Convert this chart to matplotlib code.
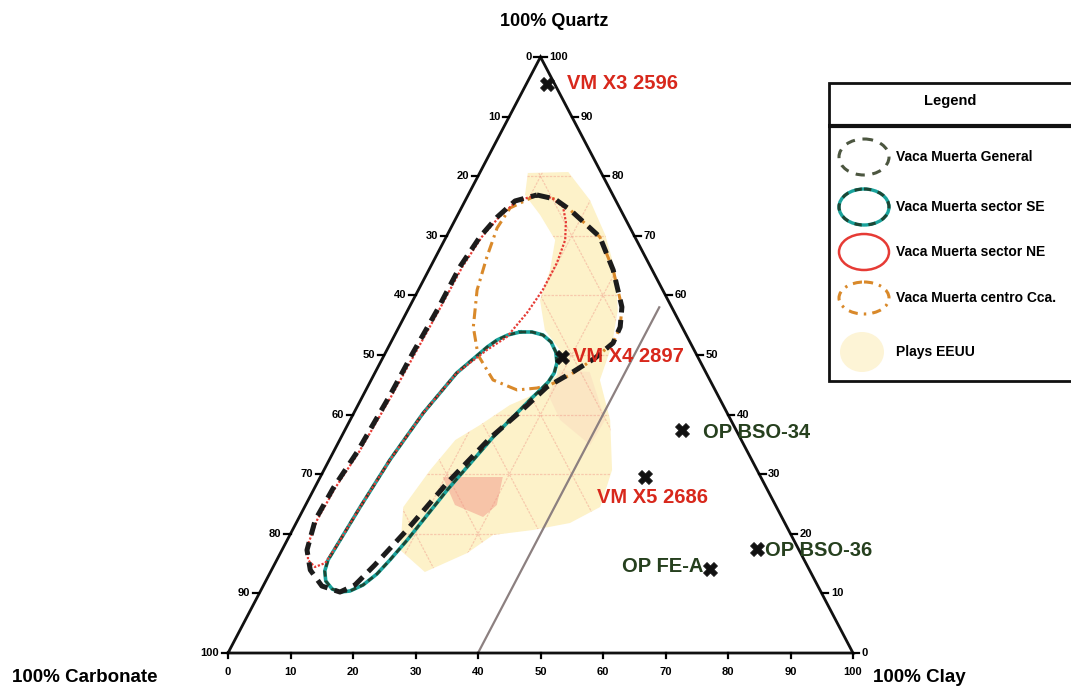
import numpy as np
import matplotlib
matplotlib.use("Agg")
import matplotlib.pyplot as plt
from matplotlib.patches import Polygon, Ellipse, Rectangle
from matplotlib import font_manager

# ---- data: % clay and % quartz (carbonate = 100 - clay - quartz)
gen_clay = [11.0, 14.2, 17.6, 24.6, 29.5, 34.0, 35.4, 35.6, 34.0, 31.6, 28.7, 26.5, 23.9,
            20.8, 18.3, 16.1, 14.6, 12.8, 9.4, 6.2, 4.0, 2.8, 3.0, 3.8, 4.3, 4.4, 4.7, 4.7,
            5.4, 6.5, 8.0]
gen_qtz = [76.85, 76.17, 74.33, 69.80, 64.26, 58.05, 54.70, 52.01, 49.50, 47.15, 44.63,
           40.44, 36.07, 28.52, 20.64, 14.77, 11.41, 10.23, 11.24, 13.93, 17.28, 22.32,
           27.68, 33.72, 43.29, 50.34, 57.55, 64.77, 69.80, 73.15, 75.84]

ne_clay = [11.0, 13.7, 16.2, 17.9, 19.3, 19.9, 19.9, 19.3, 18.1, 16.0, 13.1, 11.1, 9.7,
           8.9, 8.4, 8.0, 6.7, 5.0, 3.7, 3.1, 3.3, 4.1, 4.6, 4.8, 5.0, 5.1, 5.7, 6.8, 8.3]
ne_qtz = [76.85, 76.34, 74.83, 72.32, 69.30, 65.44, 60.91, 57.05, 53.02, 50.84, 46.98,
          40.27, 32.38, 24.50, 18.12, 15.10, 14.43, 15.60, 18.12, 22.32, 27.68, 33.72,
          43.29, 50.34, 57.55, 64.77, 69.80, 73.15, 75.84]

se_clay = [19.8, 21.7, 23.7, 25.6, 27.2, 28.3, 28.7, 28.5, 27.9, 27.3, 25.8, 24.3, 21.4,
           19.2, 18.1, 17.2, 15.9, 14.3, 12.8, 11.3, 9.6, 8.6, 8.2, 8.4, 8.9, 9.7, 11.1,
           13.1, 15.8, 16.8, 18.1]
se_qtz = [53.86, 53.86, 53.36, 52.18, 50.50, 48.66, 46.98, 45.47, 44.13, 42.95, 39.60,
          36.24, 27.35, 18.96, 15.60, 13.26, 11.41, 10.40, 10.23, 10.74, 12.08, 13.76,
          15.60, 18.12, 24.50, 32.38, 40.27, 46.98, 51.34, 52.52, 53.36]

cca_clay = [11.0, 14.2, 17.6, 24.6, 29.5, 34.0, 35.4, 35.6, 34.0, 31.4, 29.0, 27.2, 24.2,
            19.5, 15.0, 11.9, 9.4, 8.2, 7.4, 7.8]
cca_qtz = [76.85, 76.17, 74.33, 69.80, 64.26, 58.05, 54.70, 52.01, 49.50, 46.64, 44.97,
           44.46, 44.13, 45.81, 50.00, 54.70, 60.91, 66.44, 71.31, 74.66]

plays_clay = [7.7, 14.1, 19.9, 25.3, 29.8, 33.6, 35.6, 36.6, 41.6, 46.1, 47.3, 43.8, 38.5,
              32.5, 29.9, 24.7, 18.9, 15.8, 17.0, 18.5, 21.2, 24.3, 28.0, 29.3, 27.7, 23.6,
              20.3, 19.4, 17.7, 13.2, 9.1]
plays_qtz = [80.54, 80.70, 76.00, 70.13, 64.26, 57.55, 51.68, 45.81, 39.09, 30.70, 24.50,
             21.81, 20.64, 19.80, 16.78, 13.59, 17.28, 24.50, 30.70, 35.74, 38.26, 41.61,
             43.79, 46.64, 50.84, 54.19, 59.23, 64.26, 69.30, 73.49, 76.85]

plays_core_clay = [19.6, 29.2, 30.6, 29.4, 23.9]
plays_core_qtz = [29.53, 29.53, 24.83, 22.82, 24.83]

plays_pink_clay = [29.4, 34.3, 40.8, 40.5, 33.6, 29.6]
plays_pink_qtz = [47.48, 47.15, 39.09, 34.90, 39.09, 43.29]

samples = ['VM X3 2596', 'VM X4 2897', 'OP BSO-34', 'VM X5 2686', 'OP BSO-36', 'OP FE-A']
samp_clay = [3.3, 28.6, 53.9, 52.0, 75.9, 70.0]
samp_qtz = [95.5, 49.7, 37.4, 29.5, 17.4, 14.1]

clay_limit = [40, 40]
clay_limit_qtz = [0, 58]

tick_vals = [0, 10, 20, 30, 40, 50, 60, 70, 80, 90, 100]

legend_labels = ['Vaca Muerta General', 'Vaca Muerta sector SE', 'Vaca Muerta sector NE',
                 'Vaca Muerta centro Cca.', 'Plays EEUU']

# ---- colours
RED = '#d8281c'
GREEN = '#26401e'
C_GEN = '#1c1c1c'
C_SE = '#19a39c'
C_SE2 = '#1d4634'
C_NE = '#e63b35'
C_CCA = '#d9892a'
C_PLAYS = '#fdf2c9'


def tern(clay, qtz):
    clay = np.asarray(clay, float)
    qtz = np.asarray(qtz, float)
    return clay + qtz / 2.0, qtz


def closed(a):
    return list(a) + [a[0]]


plt.rcParams['font.family'] = ['Liberation Sans', 'DejaVu Sans']
names = {f.name for f in font_manager.fontManager.ttflist}
narrow = 'Liberation Sans Narrow' if 'Liberation Sans Narrow' in names else 'Liberation Sans'

fig = plt.figure(figsize=(10.71, 6.88), dpi=100)
ax = fig.add_axes([0, 0, 1, 1])
ax.set_xlim(-36.48, 134.88)
ax.set_ylim(-5.87, 109.56)
ax.axis('off')

# plays EEUU area with faint grid
px, py = tern(plays_clay, plays_qtz)
blob = Polygon(np.column_stack([px, py]), closed=True, fc=C_PLAYS, ec='none', zorder=1)
ax.add_patch(blob)
cx, cy = tern(plays_pink_clay, plays_pink_qtz)
ax.add_patch(Polygon(np.column_stack([cx, cy]), closed=True, fc='#f8cdb8', ec='none',
                     alpha=0.3, zorder=1.1))
cx, cy = tern(plays_core_clay, plays_core_qtz)
ax.add_patch(Polygon(np.column_stack([cx, cy]), closed=True, fc='#f6b9a0', ec='none',
                     alpha=0.8, zorder=1.2))
for v in tick_vals[1:-1]:
    for (c0, q0), (c1, q1) in [((0, v), (100 - v, v)),        # const quartz
                               ((v, 0), (v, 100 - v)),        # const clay
                               ((0, 100 - v), (100 - v, 0))]:  # const carbonate
        gx, gy = tern([c0, c1], [q0, q1])
        ln, = ax.plot(gx, gy, color='#ee8f82', lw=0.9, alpha=0.4, dashes=(2, 1),
                      zorder=1.3)
        ln.set_clip_path(blob)

# triangle frame
tx, ty = tern([0, 100, 0, 0], [0, 0, 100, 0])
ax.plot(tx, ty, color='#111111', lw=2, solid_joinstyle='miter', zorder=3)

# ticks and tick labels
tkw = dict(textcoords='offset pixels', fontsize=8, fontweight='bold')
for v in tick_vals:
    # left edge: carbonate
    x, y = tern(0, 100 - v)
    ax.plot([x, x - 1.0], [y, y], color='k', lw=1.6, zorder=3)
    ax.annotate(str(v), (x, y), xytext=(-9, 0), ha='right', va='center', **tkw)
    # right edge: quartz
    x, y = tern(100 - v, v)
    ax.plot([x, x + 1.0], [y, y], color='k', lw=1.6, zorder=3)
    ax.annotate(str(v), (x, y), xytext=(9, 0), ha='left', va='center', **tkw)
    # bottom edge: clay
    x, y = tern(v, 0)
    ax.plot([x, x], [y, y - 0.9], color='k', lw=1.6, zorder=3)
    ax.annotate(str(v), (x, y), xytext=(0, -19), ha='center', va='center', **tkw)

# 40% clay limit
lx, ly = tern(clay_limit, clay_limit_qtz)
ax.plot(lx, ly, color='#8c8080', lw=1.6, zorder=2)

# envelopes
x, y = tern(closed(cca_clay), closed(cca_qtz))
ax.plot(x, y, color=C_CCA, lw=2.2, dashes=(3.5, 1.6, 0.8, 1.6), zorder=4)
x, y = tern(closed(se_clay), closed(se_qtz))
ax.plot(x, y, color=C_SE, lw=2.6, solid_joinstyle='round', zorder=4)
ax.plot(x, y, color=C_SE2, lw=2.0, dashes=(2.2, 1.4), zorder=4.1)
x, y = tern(closed(ne_clay), closed(ne_qtz))
ax.plot(x, y, color=C_NE, lw=1.6, dashes=(1, 0.8), zorder=4.2)
x, y = tern(closed(gen_clay), closed(gen_qtz))
ax.plot(x, y, color=C_GEN, lw=3.6, dashes=(2.6, 1.5), zorder=4.3)

# samples
sx, sy = tern(samp_clay, samp_qtz)
ax.scatter(sx, sy, marker='X', s=100, color='#111111', edgecolors='#111111', lw=0.6,
           zorder=6)
offsets = [(20, 0, 'left', RED), (11, 0, 'left', RED), (21, -2, 'left', GREEN),
           (7, -20, 'center', RED), (8, -1, 'left', GREEN), (-6, 2, 'right', GREEN)]
for name, x, y, (dx, dy, ha, col) in zip(samples, sx, sy, offsets):
    ax.annotate(name, (x, y), xytext=(dx, dy), textcoords='offset pixels', ha=ha,
                va='center', fontsize=14.5, fontweight='bold', color=col, zorder=7)

# corner titles
x, y = tern(0, 100)
ax.annotate('100% Quartz', (x, y), xytext=(14, 35), textcoords='offset pixels',
            ha='center', va='center', fontsize=13, fontweight='bold')
x, y = tern(0, 0)
ax.annotate('100% Carbonate', (x, y), xytext=(-143, -24), textcoords='offset pixels',
            ha='center', va='center', fontsize=13.5, fontweight='bold')
x, y = tern(100, 0)
ax.annotate('100% Clay', (x, y), xytext=(20, -24), textcoords='offset pixels',
            ha='left', va='center', fontsize=13.5, fontweight='bold')

# ---- legend box (drawn in its own pixel-scaled axes)
W, H = 1071, 688
lg = fig.add_axes([828 / W, (H - 382) / H, (W - 828) / W, (382 - 82) / H])
lg.set_xlim(0, W - 828)
lg.set_ylim(300, 0)
lg.axis('off')
lg.add_patch(Rectangle((1, 1), 260, 298, fc='white', ec='#111111', lw=2, clip_on=False))
lg.plot([1, 260], [44, 44], color='#111111', lw=3)
lg.text(122, 19, 'Legend', ha='center', va='center', fontsize=10.5, fontweight='bold',
        family=narrow)

rows = [75, 125, 170, 216, 270]
ew, eh = 50, 36
lg.add_patch(Ellipse((36, rows[0]), ew, eh, fill=False, ec='#4c5640', lw=2.2,
                     ls=(0, (3, 2.5))))
lg.add_patch(Ellipse((36, rows[1]), ew, eh, fill=False, ec=C_SE, lw=2.4))
lg.add_patch(Ellipse((36, rows[1]), ew, eh, fill=False, ec=C_SE2, lw=2.2, ls=(0, (2.4, 2.2))))
lg.add_patch(Ellipse((36, rows[2]), ew, eh, fill=False, ec=C_NE, lw=1.8))
lg.add_patch(Ellipse((36, rows[3]), ew, eh - 4, fill=False, ec=C_CCA, lw=2.2,
                     ls=(0, (3, 2, 0.8, 2))))
lg.add_patch(Ellipse((34, rows[4]), 44, 40, fc='#fdf4d6', ec='none'))
for r, lab in zip(rows, legend_labels):
    lg.text(68, r, lab, ha='left', va='center', fontsize=10, fontweight='bold',
            family=narrow)

fig.savefig('out.png', dpi=100)
